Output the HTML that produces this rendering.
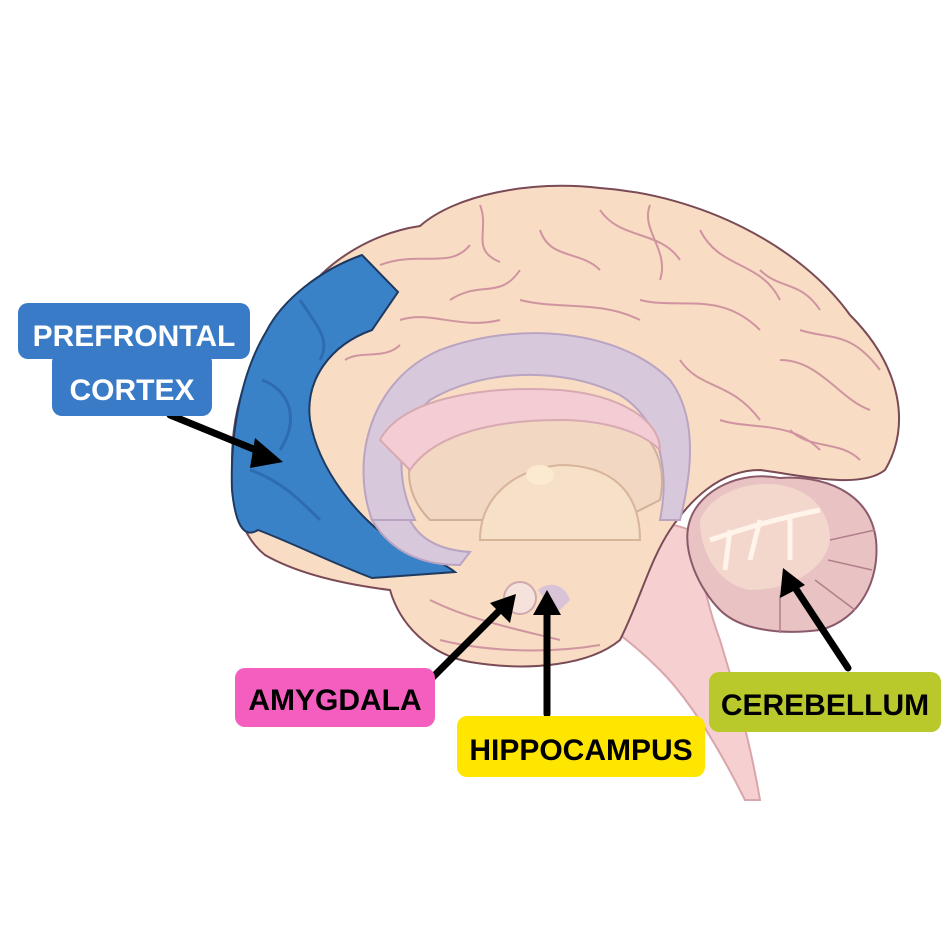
<!DOCTYPE html>
<html><head><meta charset="utf-8"><style>
html,body{margin:0;padding:0;background:#fff;}
svg{display:block}
text{font-family:"Liberation Sans",sans-serif;font-weight:bold;}
</style></head><body>
<svg width="945" height="945" viewBox="0 0 945 945" xmlns="http://www.w3.org/2000/svg">
<rect width="945" height="945" fill="#fff"/>
<!-- brainstem -->
<path d="M560,540 C600,520 650,515 690,530 C700,560 705,600 720,640 C735,690 750,740 760,800 L745,800 C720,750 690,700 660,670 C630,640 590,610 560,600 Z" fill="#f6d0d0" stroke="#d9a6ab" stroke-width="2"/>
<!-- cerebrum -->
<path d="M300,300 C330,255 380,232 420,226 C455,195 530,180 600,188 C700,195 800,245 850,315 C900,365 912,425 885,470 C860,490 800,475 760,470 C720,470 690,500 670,530 C650,560 640,600 620,640 C590,665 530,672 470,662 C430,655 400,625 390,590 C350,585 300,575 265,555 C240,535 232,500 232,460 C232,400 255,340 300,300 Z" fill="#f8dcc4" stroke="#7a4a55" stroke-width="2"/>
<!-- gyri lines -->
<g fill="none" stroke="#c8889a" stroke-width="2" opacity="0.85">
<path d="M380,265 C420,250 450,270 470,245 M450,300 C480,280 500,300 520,270 M540,230 C550,260 580,250 600,270 M600,210 C620,240 660,230 680,260 M700,230 C720,270 760,260 780,300 M640,300 C680,310 720,290 760,330 M780,360 C820,360 840,400 870,410 M400,320 C430,310 460,330 500,320 M520,300 C560,310 600,300 640,320 M680,360 C700,390 730,380 760,420 M790,430 C810,450 840,440 860,460 M300,520 C340,540 380,550 420,560"/>
<path d="M480,205 C490,230 470,250 500,262 M650,205 C640,230 670,250 660,280 M760,270 C780,290 800,280 820,310 M800,330 C830,340 850,330 880,370 M720,420 C750,430 790,420 820,450 M430,600 C470,620 520,630 560,640 M440,640 C480,650 540,655 600,645 M345,360 C360,350 385,360 400,345"/>
</g>
<!-- blue prefrontal -->
<path d="M362,255 C320,270 282,300 266,332 C242,372 230,430 232,490 C235,520 242,540 258,530 C290,542 330,562 372,578 L455,572 C440,560 412,552 392,540 C360,520 318,470 310,420 C305,380 330,345 372,330 L398,292 Z" fill="#3a82c8" stroke="#1f3a60" stroke-width="2"/>
<path d="M262,380 C290,390 300,420 280,450 M250,470 C280,480 300,500 320,520 M300,300 C320,330 330,340 320,360" fill="none" stroke="#2d6cb0" stroke-width="3"/>
<!-- purple ring -->
<path d="M372,520 C350,460 370,380 440,350 C520,320 620,330 670,380 C700,420 690,480 680,520 L660,520 C670,470 660,420 620,395 C560,365 480,370 430,400 C395,430 395,480 415,520 Z" fill="#d8c8dc" stroke="#b9a4c2" stroke-width="2"/>
<path d="M372,520 C390,550 420,565 460,565 L470,552 C440,550 420,540 410,520 Z" fill="#d8c8dc" stroke="#b9a4c2" stroke-width="2"/>
<path d="M430,520 C410,500 400,470 420,440 C450,400 540,390 600,410 C640,420 670,450 660,500 L620,520 Z" fill="#f2d8c2" stroke="#d0b09a" stroke-width="2"/>
<path d="M380,440 C400,400 480,385 560,390 C620,395 660,420 660,450 C640,430 600,420 560,420 C480,420 430,440 410,470 Z" fill="#f3cdd3" stroke="#d8a9b2" stroke-width="2"/>
<path d="M480,540 C480,500 510,470 560,465 C610,465 640,490 640,540 Z" fill="#f6e0c8" stroke="#d8b49a" stroke-width="2"/>
<ellipse cx="540" cy="475" rx="14" ry="10" fill="#fbe9d0"/>
<circle cx="520" cy="598" r="16" fill="#f6e2dc" stroke="#cfa9ad" stroke-width="2"/>
<path d="M538,590 C550,580 565,585 570,600 L555,615 Z" fill="#d9c3d6"/>
<!-- cerebellum -->
<path d="M690,520 C700,490 740,470 780,478 C820,475 870,490 876,540 C880,580 860,620 820,630 C780,635 740,630 720,610 C700,590 680,550 690,520 Z" fill="#e9c3c3" stroke="#8a5a6a" stroke-width="2"/>
<path d="M700,520 C710,495 745,480 780,485 C810,490 830,510 830,540 C825,570 790,590 750,590 C720,585 700,555 700,520 Z" fill="#f3d6cc"/>
<path d="M710,540 C740,530 770,520 820,510 M760,520 L750,560 M790,515 L790,560 M730,530 L725,570" stroke="#fff4ea" stroke-width="5" fill="none"/>
<g stroke="#b07f8c" stroke-width="1.5" fill="none"><path d="M830,540 L875,530 M828,560 L872,570 M815,580 L855,610 M800,590 L820,630 M780,595 L780,633"/></g>
<!-- arrows -->
<g stroke="#000" stroke-width="7" fill="none" stroke-linecap="round">
<line x1="170" y1="415" x2="268" y2="455"/>
<line x1="432" y1="678" x2="505" y2="605"/>
<line x1="547" y1="714" x2="547" y2="605"/>
<line x1="848" y1="668" x2="790" y2="580"/>
</g>
<g fill="#000">
<polygon points="283,462 255,438 250,468"/>
<polygon points="516,594 490,603 510,623"/>
<polygon points="547,590 533,615 561,615"/>
<polygon points="783,568 780,598 805,585"/>
</g>
<!-- labels -->
<rect x="18" y="303" width="232" height="56" rx="10" fill="#3a7bc8"/>
<rect x="52" y="352" width="160" height="64" rx="10" fill="#3a7bc8"/>
<text x="134" y="346" font-size="30" fill="#fff" text-anchor="middle">PREFRONTAL</text>
<text x="132" y="400" font-size="30" fill="#fff" text-anchor="middle">CORTEX</text>
<rect x="235" y="668" width="200" height="59" rx="10" fill="#f45fbf"/>
<text x="335" y="710" font-size="30" fill="#000" text-anchor="middle">AMYGDALA</text>
<rect x="457" y="716" width="248" height="61" rx="10" fill="#ffe600"/>
<text x="581" y="760" font-size="30" fill="#000" text-anchor="middle">HIPPOCAMPUS</text>
<rect x="709" y="672" width="232" height="60" rx="10" fill="#b9c92b"/>
<text x="825" y="715" font-size="30" fill="#000" text-anchor="middle">CEREBELLUM</text>
</svg>
</body></html>
